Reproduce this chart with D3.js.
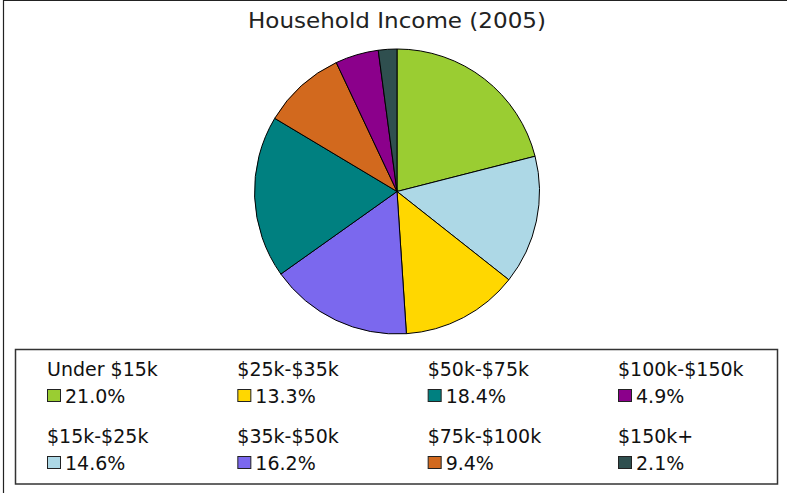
<!DOCTYPE html>
<html><head><meta charset="utf-8">
<script src="https://cdn.jsdelivr.net/npm/d3@7"></script>
<style>html,body{margin:0;padding:0;background:#fff;}svg{display:block;}</style>
</head><body>
<svg id="chart" width="787" height="493"></svg>
<script>
const title = "Household Income (2005)";
const categories = ["Under $15k","$15k-$25k","$25k-$35k","$35k-$50k","$50k-$75k","$75k-$100k","$100k-$150k","$150k+"];
const values = [21.0, 14.6, 13.3, 16.2, 18.4, 9.4, 4.9, 2.1];
const colors = ["#9ACD32","#ADD8E6","#FFD700","#7B68EE","#008080","#D2691E","#8B008B","#2F4F4F"];

const svg = d3.select("#chart");
const font = "'DejaVu Sans', Verdana, sans-serif";

// outer frame (left and top visible)
svg.append("path").attr("d","M3.5,493V0.5H787").attr("fill","none").attr("stroke","#222").attr("stroke-width",1.2);

svg.append("text").attr("x",397).attr("y",27.5).attr("text-anchor","middle")
  .attr("font-family",font).attr("font-size",20.5).attr("fill","#222")
  .attr("textLength",298).attr("lengthAdjust","spacingAndGlyphs").text(title);

const cx = 397, cy = 191.5, r = 142.5;
const pie = d3.pie().sort(null).value(d=>d)(values);
const arc = d3.arc().innerRadius(0).outerRadius(r);
const g = svg.append("g").attr("transform",`translate(${cx},${cy})`);
g.selectAll("path").data(pie).join("path")
  .attr("d",arc).attr("fill",(d,i)=>colors[i])
  .attr("stroke","#000").attr("stroke-width",1).attr("stroke-linejoin","round");

// legend
svg.append("rect").attr("x",15.5).attr("y",349.5).attr("width",762).attr("height",134.5)
  .attr("fill","#fff").attr("stroke","#333").attr("stroke-width",1.5);
const colX = d3.scalePoint().domain([0,1,2,3]).range([47,618]);
const rowY = d3.scalePoint().domain([0,1]).range([376,443]);
const lg = svg.append("g").attr("font-family",font).attr("font-size",19).attr("fill","#111");
categories.forEach((c,i)=>{
  const col = Math.floor(i/2), row = i%2;
  const x = colX(col), y = rowY(row);
  lg.append("text").attr("x",x).attr("y",y).text(c);
  lg.append("rect").attr("x",x+0.5).attr("y",y+13.5).attr("width",13).attr("height",12)
    .attr("fill",colors[i]).attr("stroke","#222").attr("stroke-width",1);
  lg.append("text").attr("x",x+18).attr("y",y+26.5).text(values[i].toFixed(1)+"%");
});
</script>
</body></html>
